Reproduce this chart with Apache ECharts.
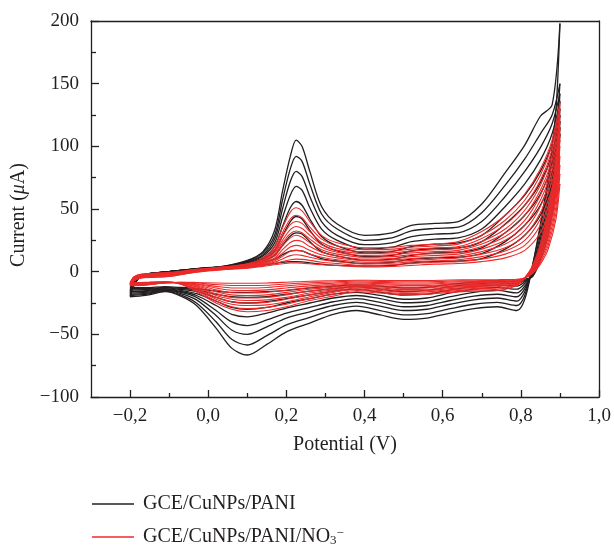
<!DOCTYPE html>
<html>
<head>
<meta charset="utf-8">
<script src="https://cdn.jsdelivr.net/npm/echarts@6/dist/echarts.min.js"></script>
<style>
  html, body { margin: 0; padding: 0; background: #fff; }
  #chart { width: 614px; height: 547px; }
</style>
</head>
<body>
<div id="chart"></div>
<script>
// potentials (V) for forward and reverse sweeps
const anodicX = [-0.2, -0.19, -0.17, -0.1, -0.03, 0.04, 0.1, 0.14, 0.17, 0.19, 0.21, 0.225, 0.24, 0.26, 0.29, 0.33, 0.4, 0.47, 0.52, 0.58, 0.64, 0.7, 0.76, 0.81, 0.85, 0.88, 0.9]
const cathodicX = [0.9, 0.89, 0.87, 0.85, 0.83, 0.81, 0.79, 0.74, 0.68, 0.62, 0.56, 0.5, 0.44, 0.38, 0.32, 0.26, 0.2, 0.15, 0.1, 0.06, 0.02, -0.03, -0.07, -0.11, -0.16, -0.2]

// GCE/CuNPs/PANI, current (uA), one row per cycle
const blackAnodic = [
  [-20, -11, -3, 0, 2.5, 4.5, 9, 16, 33, 64, 92, 105, 100, 80, 52, 38, 29, 31, 37, 38.5, 40, 54, 79, 101, 124, 133, 198],
  [-19, -11, -3, 0, 2.4, 4.3, 8.5, 15, 29, 57, 82, 92, 88, 70, 46, 34, 25, 27, 32.5, 34.5, 35.5, 47, 69, 90, 110, 125, 150],
  [-18, -10.5, -3, 0, 2.3, 4.2, 8, 13.5, 26, 50, 72, 80, 76, 60, 40, 29, 21.5, 23, 28, 30, 31, 40, 60, 80, 99, 118, 142],
  [-17, -10.5, -3, 0, 2.2, 4, 7.5, 12.5, 23, 43, 61, 68, 65, 51, 34, 25, 18, 19.5, 24, 26, 27, 34, 52, 70, 89, 110, 136],
  [-16, -10, -3, 0, 2.1, 3.8, 7, 11, 20, 36, 51, 56, 53, 42, 28, 20.5, 15, 16, 20, 22, 23, 29, 45, 61, 80, 102, 130],
  [-15.5, -10, -3, 0, 2, 3.6, 6.3, 10, 16.5, 28.5, 40, 44, 42, 33, 22, 16.5, 12, 13, 16.5, 18.5, 19, 24, 38, 53, 71, 94, 125],
  [-14.5, -9.5, -3, 0, 1.9, 3.4, 5.6, 8.8, 13, 21, 28.5, 31, 30, 24, 16, 12.5, 9, 10, 13, 15, 15.5, 19, 31, 45, 62, 86, 120],
  [-13.5, -9, -3, 0, 1.8, 3.2, 4.8, 7.3, 10, 13.5, 16.3, 17, 16.5, 14, 10.5, 8.5, 6.5, 7.5, 10, 11, 11.5, 14.5, 24, 37, 53, 78, 115],
  [-12.5, -8.5, -3, 0, 1.7, 3, 4, 5.5, 6.5, 7.5, 8, 8, 7.8, 7, 6, 5, 4.5, 5, 7, 8, 8.5, 10.5, 18, 29, 45, 70, 110]
]
const blackCathodic = [
  [198, 130, 75, 38, 5, -22, -31, -28, -29.5, -33, -37, -38, -34.5, -31, -34, -41, -48, -58, -66.5, -61, -45, -27, -19.5, -16, -19, -20],
  [150, 110, 70, 35, 5, -19, -27, -24.5, -26, -29.5, -33.5, -34.5, -31, -27.5, -30.5, -36.5, -42.5, -51, -58.5, -54, -40, -25, -18.5, -15.5, -18.2, -19],
  [142, 100, 62, 30, 3, -16, -23.5, -21, -22.5, -26, -30, -31, -27.5, -24.5, -27, -32, -37, -44, -50, -46.5, -35, -22.5, -17.5, -15, -17.4, -18],
  [136, 92, 56, 26, 1, -13.5, -20, -18, -19.5, -23, -27, -28, -24.5, -21.5, -24, -28.5, -33, -38.5, -43, -40, -31, -20.5, -16.5, -14.5, -16.6, -17],
  [130, 85, 50, 22, -1, -11.5, -17, -15, -16.5, -20, -24, -24.8, -21.5, -19, -21, -25, -29, -33, -36, -34, -27, -19, -15.8, -14, -15.8, -16],
  [125, 80, 45, 18, -2, -9.5, -14, -12.5, -14, -17, -21, -22, -19, -16.5, -18, -21.5, -25, -28.5, -30, -28.5, -23.5, -17.5, -15, -13.5, -15.2, -15.5],
  [120, 75, 40, 15, -3, -8, -11.5, -10.5, -12, -14.5, -18, -18.6, -16.5, -14, -15.5, -18.5, -21.5, -24, -25, -24, -20.5, -16, -14.2, -13, -14.4, -14.5],
  [115, 70, 35, 12, -3.5, -7, -9.5, -9, -10, -12, -15, -16, -14, -12, -13.5, -15.5, -18, -20, -20.5, -20, -18, -14.5, -13.4, -12.5, -13.6, -13.5],
  [110, 65, 30, 9, -4, -6, -8, -7.5, -8.5, -10, -12.5, -13, -11.5, -10.5, -11.5, -13, -15, -16, -16.5, -16.5, -15.5, -13.5, -12.6, -12, -12.8, -12.5]
]

// GCE/CuNPs/PANI/NO3-, current (uA), one row per cycle
const redAnodic = [
  [-9, -4, -1.8, -0.6, 1.8, 3.8, 6.3, 11, 20, 35, 47.5, 51, 48.5, 40, 29, 23, 19, 19.5, 21, 22, 24, 32, 45, 62, 82, 105, 135],
  [-9.2, -4.3, -2.1, -0.9, 1.6, 3.6, 6, 10, 18, 31, 42, 45, 43, 35.5, 26, 20.5, 17.5, 18, 19.5, 20.5, 22, 29, 41, 57, 77, 101, 130],
  [-9.4, -4.6, -2.4, -1.2, 1.4, 3.4, 5.6, 9.2, 16.5, 28, 37.5, 40, 38.5, 32, 23.5, 18.5, 16, 16.5, 18, 19, 20, 26.5, 37.5, 53, 73, 97, 125],
  [-9.6, -4.9, -2.7, -1.5, 1.2, 3.2, 5.3, 8.6, 15, 25, 33.5, 36, 34.5, 29, 21.5, 17, 14.5, 15, 16.5, 17.5, 18.5, 24, 34, 49, 69, 93, 120],
  [-9.8, -5.2, -3, -1.8, 1, 3, 5, 8, 13.8, 22.8, 30.3, 32.5, 31, 26, 19.5, 15.5, 13, 13.5, 15, 16, 17, 22, 31, 45, 65, 89, 115],
  [-10, -5.5, -3.3, -2.1, 0.8, 2.8, 4.7, 7.4, 12.6, 20.5, 27, 29, 27.5, 23, 17.5, 14, 11.5, 12, 13.5, 14.5, 15.5, 20, 28, 41, 61, 85, 110],
  [-10.2, -5.8, -3.6, -2.4, 0.6, 2.6, 4.4, 6.9, 11, 17.5, 23.3, 25, 24, 20, 15.5, 12.5, 10, 10.5, 12, 13, 14, 18, 25, 37, 57, 81, 105],
  [-10.4, -6.1, -3.9, -2.7, 0.4, 2.4, 4, 6.3, 9.8, 14.8, 19.7, 21, 20, 17, 13.5, 11, 8.8, 9.3, 10.5, 11.5, 12.5, 16, 22, 33, 52, 77, 100],
  [-10.6, -6.4, -4.2, -3, 0.2, 2.2, 3.7, 5.8, 8.7, 12.2, 16.2, 17, 16.5, 14, 11.5, 9.5, 7.5, 8, 9, 10, 11, 14, 19, 29, 47, 72, 92],
  [-10.8, -6.7, -4.5, -3.3, 0, 2, 3.4, 5.3, 7.6, 10.2, 12.8, 13.5, 13, 11.5, 9.5, 8, 6.3, 6.8, 7.8, 8.7, 9.5, 12, 16.5, 25, 42, 66, 85],
  [-11, -7, -4.8, -3.6, -0.2, 1.8, 3, 4.7, 6.5, 8, 9.5, 10, 9.8, 9, 7.5, 6.5, 5, 5.5, 6.5, 7.5, 8, 10, 14, 21, 37, 60, 78],
  [-11.2, -7.3, -5.1, -3.9, -0.4, 1.6, 2.7, 4.2, 5.5, 6.3, 7, 7, 6.8, 6.3, 5.5, 5, 3.8, 4.2, 5, 6, 6.5, 8, 11, 17, 31, 53, 70]
]
const redCathodic = [
  [135, 90, 48, 22, 5, -5, -11, -15, -15.5, -16.5, -18, -18.5, -17, -16, -19.5, -23, -28, -31, -32, -30, -25, -16, -10, -8, -8.5, -9],
  [130, 86, 45, 20, 4, -5, -10.5, -14, -14.5, -15.5, -17, -17.5, -16, -15, -18, -21.5, -26, -28.5, -29.5, -28, -23.5, -15, -9.8, -8.1, -8.7, -9.2],
  [125, 82, 42, 18.5, 3, -5, -10, -13, -13.5, -14.5, -16, -16.3, -15, -14, -16.5, -20, -24, -26.5, -27, -26, -22, -14, -9.6, -8.2, -8.9, -9.4],
  [120, 78, 40, 17, 2.5, -5, -9.5, -12, -12.5, -13.5, -15, -15.2, -14, -13, -15.5, -18.5, -22, -24.5, -25, -24, -20.5, -13.5, -9.4, -8.3, -9.1, -9.6],
  [115, 74, 37, 16, 2, -5, -9, -11.2, -11.7, -12.5, -14, -14.2, -13, -12.2, -14.5, -17, -20.5, -22.5, -23, -22, -19, -12.5, -9.2, -8.4, -9.3, -9.8],
  [110, 70, 35, 14.5, 1.5, -5, -8.5, -10.5, -11, -11.7, -13, -13.2, -12.2, -11.5, -13.5, -15.5, -18.5, -20.5, -21, -20.5, -17.5, -12, -9, -8.5, -9.5, -10],
  [105, 66, 32, 13, 1, -5, -8, -9.8, -10.2, -10.8, -12, -12.2, -11.3, -10.7, -12.3, -14, -16.5, -18.5, -19, -18.5, -16, -11.2, -8.9, -8.6, -9.7, -10.2],
  [100, 62, 30, 12, 0.5, -5, -7.6, -9, -9.4, -10, -11, -11, -10.4, -9.9, -11.2, -12.6, -14.8, -16.5, -17, -16.8, -14.5, -10.6, -8.8, -8.7, -9.9, -10.4],
  [92, 57, 27, 10.5, 0, -5, -7.2, -8.3, -8.6, -9.1, -10, -10, -9.5, -9.1, -10.2, -11.3, -13, -14.5, -15, -14.8, -13, -10.1, -8.7, -8.8, -10.1, -10.6],
  [85, 52, 24, 9, -0.5, -5, -6.8, -7.6, -7.9, -8.3, -9, -9, -8.6, -8.3, -9.2, -10, -11.3, -12.6, -13, -13, -11.7, -9.6, -8.6, -8.9, -10.3, -10.8],
  [78, 47, 21, 7.5, -1, -5, -6.4, -7, -7.2, -7.5, -8, -8, -7.8, -7.5, -8.2, -8.8, -9.8, -10.8, -11, -11, -10.3, -9.1, -8.5, -9, -10.5, -11],
  [70, 42, 18, 6, -1.5, -5, -6, -6.4, -6.5, -6.7, -7, -7, -7, -6.8, -7.2, -7.6, -8.4, -9, -9.2, -9.2, -9, -8.6, -8.4, -9.1, -10.7, -11.2]
]

const xMajor = [-0.2, 0, 0.2, 0.4, 0.6, 0.8, 1.0]
const xMinor = [-0.1, 0.1, 0.3, 0.5, 0.7, 0.9]

const BLACK = '#231f20'
const RED = '#ec2a2a'
const NAME_B = 'GCE/CuNPs/PANI'
const NAME_R = 'GCE/CuNPs/PANI/NO3'
const FONT = '"Liberation Serif", "DejaVu Serif", serif'

function branch(name, xs, ys, color, width) {
  return {
    name,
    type: 'line',
    data: xs.map((x, i) => [x, ys[i]]),
    symbol: 'none',
    smooth: 0.3,
    lineStyle: { color, width },
    itemStyle: { color },
    silent: true,
  }
}

const series = []
blackAnodic.forEach((row, i) => {
  series.push(branch(NAME_B, anodicX, row, BLACK, 1.3))
  series.push(branch(NAME_B, cathodicX, blackCathodic[i], BLACK, 1.3))
})
redAnodic.forEach((row, i) => {
  series.push(branch(NAME_R, anodicX, row, RED, 1.1))
  series.push(branch(NAME_R, cathodicX, redCathodic[i], RED, 1.1))
})

const fmtX = v => (v < 0 ? '\u2212' : '') + Math.abs(v).toFixed(1).replace('.', ',')
const fmtY = v => (v < 0 ? '\u2212' : '') + Math.abs(v)

const axisLine = { onZero: false, lineStyle: { color: BLACK, width: 1.3 } }
const labelStyle = { color: BLACK, fontFamily: FONT, fontSize: 19 }

// one legend box per row, stacked
function legendRow(name, top) {
  return {
    data: [name],
    left: 92,
    top,
    padding: 0,
    itemWidth: 42,
    itemHeight: 14,
    icon: 'path://M0,0 L42,0 L42,1.4 L0,1.4 Z',
    selectedMode: false,
    formatter: n => n === NAME_R ? 'GCE/CuNPs/PANI/NO{sub|3}{sup|\u2212}' : n,
    textStyle: {
      color: BLACK, fontFamily: FONT, fontSize: 20, lineHeight: 20, padding: [0, 0, 0, 4],
      rich: {
        sub: { fontFamily: FONT, fontSize: 13, color: BLACK, verticalAlign: 'bottom', padding: [9, 0, 0, 0] },
        sup: { fontFamily: FONT, fontSize: 13, color: BLACK, verticalAlign: 'top', padding: [0, 0, 9, 0] },
      },
    },
  }
}

const chart = echarts.init(document.getElementById('chart'), null, { renderer: 'canvas' })
chart.setOption({
  animation: false,
  textStyle: { fontFamily: FONT },
  grid: { left: 91, right: 15, top: 21, bottom: 150 },
  legend: [legendRow(NAME_B, 494), legendRow(NAME_R, 527)],
  xAxis: [
    {
      type: 'value', min: -0.3, max: 1.0, position: 'bottom',
      name: 'Potential (V)', nameLocation: 'middle', nameGap: 38,
      nameTextStyle: { color: BLACK, fontFamily: FONT, fontSize: 20 },
      axisLine,
      axisTick: { inside: true, length: 7, customValues: xMajor, lineStyle: { color: BLACK, width: 1.3 } },
      axisLabel: { ...labelStyle, margin: 10, customValues: xMajor, formatter: fmtX },
      splitLine: { show: false },
    },
    {
      type: 'value', min: -0.3, max: 1.0, position: 'bottom',
      axisLine: { show: false, onZero: false },
      axisTick: { inside: true, length: 4, customValues: xMinor, lineStyle: { color: BLACK, width: 1.3 } },
      axisLabel: { show: false },
      splitLine: { show: false },
    },
    {
      type: 'value', min: -0.3, max: 1.0, position: 'top',
      axisLine, axisTick: { show: false }, axisLabel: { show: false }, splitLine: { show: false },
    },
  ],
  yAxis: [
    {
      type: 'value', min: -100, max: 200, interval: 50, position: 'left',
      name: 'Current ({i|\u03bc}A)', nameLocation: 'middle', nameGap: 60, nameRotate: 90,
      nameTextStyle: {
        color: BLACK, fontFamily: FONT, fontSize: 20, padding: [0, 12, 0, 0],
        rich: { i: { fontFamily: FONT, fontSize: 20, fontStyle: 'italic', color: BLACK } },
      },
      axisLine: { show: true, ...axisLine },
      axisTick: { inside: true, length: 8, lineStyle: { color: BLACK, width: 1.3 } },
      minorTick: { show: true, splitNumber: 2, length: 5, lineStyle: { color: BLACK, width: 1.3 } },
      axisLabel: { ...labelStyle, margin: 12, formatter: fmtY },
      splitLine: { show: false },
    },
    {
      type: 'value', min: -100, max: 200, position: 'right',
      axisLine: { show: true, ...axisLine },
      axisTick: { show: false }, axisLabel: { show: false }, splitLine: { show: false },
    },
  ],
  series,
})
</script>
</body>
</html>
